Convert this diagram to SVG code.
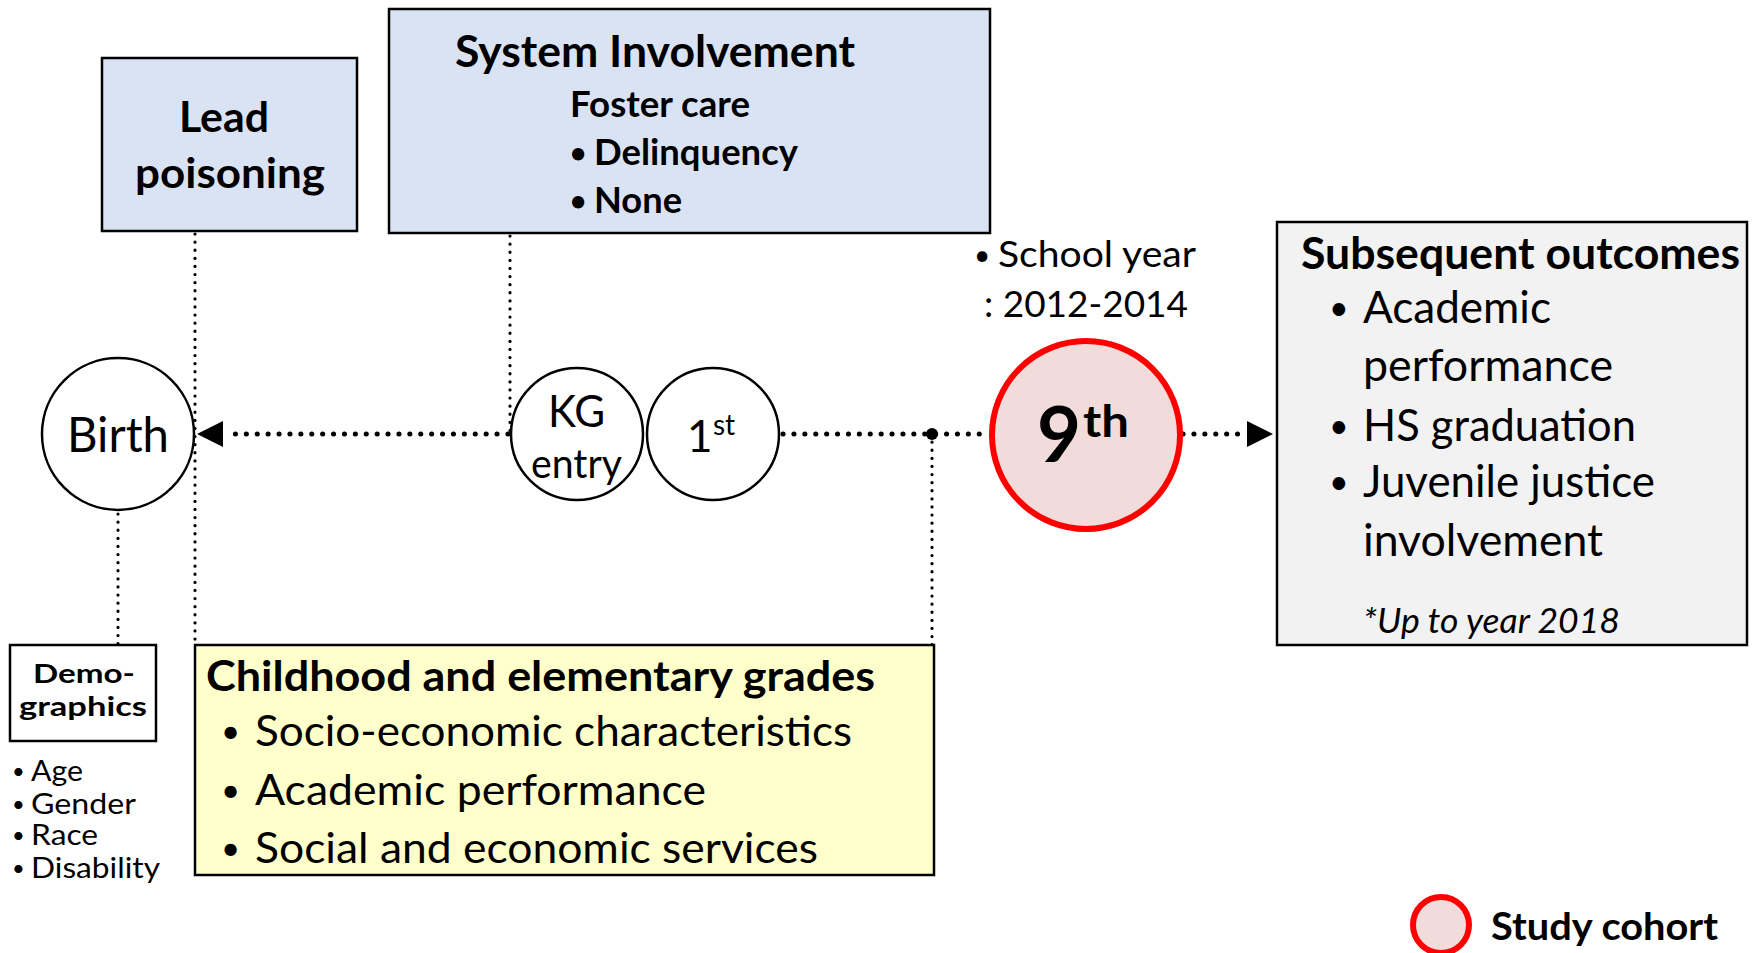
<svg xmlns="http://www.w3.org/2000/svg" width="1758" height="953" viewBox="0 0 1758 953">
<style>
  text { font-family: Lato, "Open Sans", "Liberation Sans", sans-serif; fill: #000; }
  .b { font-weight: bold; }
  .box { stroke: #000; stroke-width: 2.5; }
  .blue { fill: #DAE3F3; }
  .circ { fill: #fff; stroke: #000; stroke-width: 2.5; }
  .dot { fill: none; stroke: #000; stroke-width: 5; stroke-linecap: round; stroke-dasharray: 0.1 10.8; }
  .vdot { fill: none; stroke: #000; stroke-width: 3.2; stroke-linecap: round; stroke-dasharray: 0.1 8; }
</style>
<rect width="1758" height="953" fill="#fff"/>

<g id="connectors">
  <line class="vdot" x1="195" y1="234" x2="195" y2="645"/>
  <line class="vdot" x1="510" y1="236" x2="510" y2="434"/>
  <line class="vdot" x1="118" y1="514" x2="118" y2="645"/>
  <line class="vdot" x1="932" y1="434" x2="932" y2="645"/>
  <line class="dot" x1="508" y1="434" x2="228" y2="434"/>
  <path d="M197,434 L223,421 L223,447 Z" fill="#000"/>
  <line class="dot" x1="783" y1="434" x2="988" y2="434"/>
  <circle cx="932" cy="434" r="6" fill="#000"/>
  <line class="dot" x1="1183" y1="434" x2="1245" y2="434"/>
  <path d="M1273,434 L1247,421 L1247,447 Z" fill="#000"/>
</g>

<g id="lead">
  <rect class="box blue" x="102" y="58" width="255" height="173"/>
  <text class="b" x="179" y="132" font-size="42" textLength="90" lengthAdjust="spacingAndGlyphs">Lead</text>
  <text class="b" x="135" y="188" font-size="42" textLength="190" lengthAdjust="spacingAndGlyphs">poisoning</text>
</g>

<g id="system">
  <rect class="box blue" x="389" y="9" width="601" height="224"/>
  <text class="b" x="455" y="67" font-size="44" textLength="400" lengthAdjust="spacingAndGlyphs">System Involvement</text>
  <text class="b" x="570" y="117" font-size="36" textLength="180" lengthAdjust="spacingAndGlyphs">Foster care</text>
  <text class="b" x="570" y="163" font-size="28">•</text>
  <text class="b" x="594" y="165" font-size="36" textLength="204" lengthAdjust="spacingAndGlyphs">Delinquency</text>
  <text class="b" x="570" y="211" font-size="28">•</text>
  <text class="b" x="594" y="213" font-size="36" textLength="88" lengthAdjust="spacingAndGlyphs">None</text>
</g>

<g id="schoolyear">
  <text x="974" y="265" font-size="28">•</text>
  <text x="998" y="267" font-size="36" textLength="198" lengthAdjust="spacingAndGlyphs">School year</text>
  <text x="984" y="317" font-size="36" textLength="204" lengthAdjust="spacingAndGlyphs">: 2012-2014</text>
</g>

<g id="birth">
  <circle class="circ" cx="118" cy="434" r="76"/>
  <text x="67" y="452" font-size="48" textLength="102" lengthAdjust="spacingAndGlyphs">Birth</text>
</g>

<g id="kg">
  <circle class="circ" cx="577" cy="434" r="66"/>
  <text x="548" y="427" font-size="44" textLength="57" lengthAdjust="spacingAndGlyphs">KG</text>
  <text x="531" y="478" font-size="40" textLength="91" lengthAdjust="spacingAndGlyphs">entry</text>
</g>

<g id="first">
  <circle class="circ" cx="713" cy="434" r="66"/>
  <text x="687" y="452" font-size="44">1</text>
  <text x="713" y="435" font-size="28">st</text>
</g>

<g id="ninth">
  <circle cx="1086" cy="435" r="94" fill="#F2DCDB" stroke="#FF0000" stroke-width="6"/>
  <text class="b" x="1037" y="462" font-size="76">9</text>
  <text class="b" x="1083" y="437" font-size="44" textLength="46" lengthAdjust="spacingAndGlyphs">th</text>
</g>

<g id="outcomes">
  <rect class="box" x="1277" y="222" width="470" height="423" fill="#F2F2F2"/>
  <text class="b" x="1301" y="269" font-size="44" textLength="439" lengthAdjust="spacingAndGlyphs">Subsequent outcomes</text>
  <text x="1329" y="320" font-size="34">•</text>
  <text x="1363" y="323" font-size="44" textLength="188" lengthAdjust="spacingAndGlyphs">Academic</text>
  <text x="1363" y="381" font-size="44" textLength="250" lengthAdjust="spacingAndGlyphs">performance</text>
  <text x="1329" y="438" font-size="34">•</text>
  <text x="1363" y="441" font-size="44" textLength="273" lengthAdjust="spacingAndGlyphs">HS graduation</text>
  <text x="1329" y="494" font-size="34">•</text>
  <text x="1363" y="497" font-size="44" textLength="292" lengthAdjust="spacingAndGlyphs">Juvenile justice</text>
  <text x="1363" y="556" font-size="44" textLength="240" lengthAdjust="spacingAndGlyphs">involvement</text>
  <text x="1363" y="633" font-size="34" font-style="italic" textLength="257" lengthAdjust="spacingAndGlyphs">*Up to year 2018</text>
</g>

<g id="demographics">
  <rect class="box" x="10" y="645" width="146" height="96" fill="#fff"/>
  <text class="b" x="33" y="683" font-size="26" textLength="102" lengthAdjust="spacingAndGlyphs">Demo-</text>
  <text class="b" x="19" y="716" font-size="26" textLength="128" lengthAdjust="spacingAndGlyphs">graphics</text>
  <text x="12" y="779" font-size="22">•</text>
  <text x="31" y="781" font-size="28" textLength="52" lengthAdjust="spacingAndGlyphs">Age</text>
  <text x="12" y="812" font-size="22">•</text>
  <text x="31" y="814" font-size="28" textLength="105" lengthAdjust="spacingAndGlyphs">Gender</text>
  <text x="12" y="843" font-size="22">•</text>
  <text x="31" y="845" font-size="28" textLength="67" lengthAdjust="spacingAndGlyphs">Race</text>
  <text x="12" y="876" font-size="22">•</text>
  <text x="31" y="878" font-size="28" textLength="129" lengthAdjust="spacingAndGlyphs">Disability</text>
</g>

<g id="childhood">
  <rect class="box" x="195" y="645" width="739" height="230" fill="#FFFFCC"/>
  <text class="b" x="206" y="691" font-size="42" textLength="669" lengthAdjust="spacingAndGlyphs">Childhood and elementary grades</text>
  <text x="221" y="743" font-size="33">•</text>
  <text x="255" y="746" font-size="42" textLength="597" lengthAdjust="spacingAndGlyphs">Socio-economic characteristics</text>
  <text x="221" y="802" font-size="33">•</text>
  <text x="255" y="805" font-size="42" textLength="451" lengthAdjust="spacingAndGlyphs">Academic performance</text>
  <text x="221" y="860" font-size="33">•</text>
  <text x="255" y="863" font-size="42" textLength="563" lengthAdjust="spacingAndGlyphs">Social and economic services</text>
</g>

<g id="legend">
  <circle cx="1441" cy="925" r="28" fill="#F2DCDB" stroke="#FF0000" stroke-width="6"/>
  <text class="b" x="1491" y="940" font-size="38" textLength="227" lengthAdjust="spacingAndGlyphs">Study cohort</text>
</g>
</svg>
